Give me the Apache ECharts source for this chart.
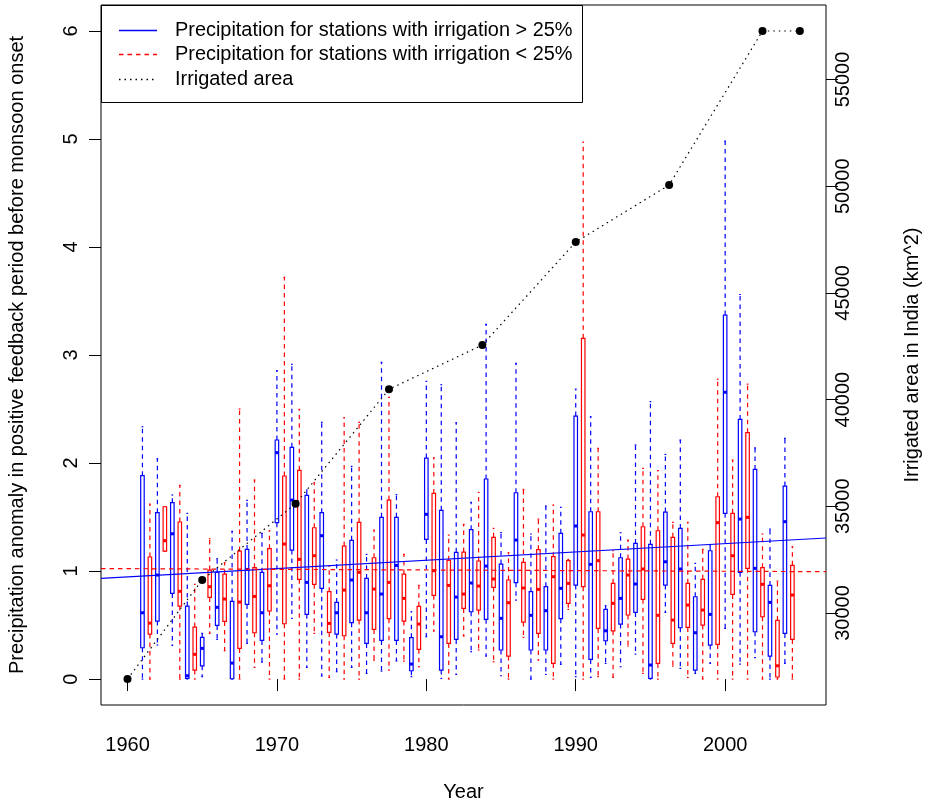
<!DOCTYPE html>
<html><head><meta charset="utf-8">
<script src="https://cdn.jsdelivr.net/npm/echarts@6/dist/echarts.min.js"></script>
<style>html,body{margin:0;padding:0;background:#fff}#c{width:925px;height:804px}</style>
</head><body><div id="c"></div>
<script>
// ---------------- data ----------------
const years = [1961,1962,1963,1964,1965,1966,1967,1968,1969,1970,1971,1972,1973,1974,1975,1976,1977,1978,1979,1980,1981,1982,1983,1984,1985,1986,1987,1988,1989,1990,1991,1992,1993,1994,1995,1996,1997,1998,1999,2000,2001,2002,2003,2004];

// stations with irrigation > 25% (blue)
const blueMin = [0,0.315,0.312,0,0.022,0.367,0,0.33,0.157,0.417,0.562,0.108,0.028,0.068,0.108,0.052,0.074,0.167,0.022,0.392,0.006,0.043,0.253,0.213,0.031,0.731,0,0.043,0.136,0.022,0.015,0.145,0.114,0.231,0,0.617,0.099,0.052,0.145,0.469,0.139,0.198,0,0.145];
const blueQ1  = [0.29,0.537,0.793,0.006,0.123,0.497,0.003,0.691,0.358,1.448,1.194,0.599,0.84,0.417,0.522,0.33,0.358,0.358,0.077,1.293,0.083,0.367,0.623,0.553,0.269,0.892,0.269,0.269,0.559,0.87,0.182,0.355,0.509,0.617,0.006,0.87,0.475,0.083,0.315,1.534,0.988,0.438,0.213,0.423];
const blueMed = [0.614,0.963,1.345,0.031,0.284,0.664,0.148,1.015,0.614,2.096,1.657,0.895,1.327,0.614,0.917,0.614,0.787,1.052,0.139,1.525,0.392,0.759,0.889,1.046,0.562,1.287,0.59,0.633,0.84,1.417,1.062,0.447,0.747,0.88,0.13,1.086,1.019,0.429,0.599,2.655,1.481,1.025,0.71,1.457];
const blueQ3  = [1.883,1.54,1.633,0.676,0.386,0.988,0.719,1.2,0.988,2.213,2.145,1.701,1.54,0.71,1.284,0.932,1.497,1.497,0.383,2.046,1.562,1.173,1.383,1.852,1.065,1.725,0.809,0.855,1.349,2.435,1.549,0.645,1.123,1.256,1.247,1.546,1.395,0.762,1.188,3.37,2.404,1.941,0.867,1.787];
const blueMax = [2.336,2.04,1.704,1.534,0.423,1.114,1.367,1.655,1.349,2.855,2.914,1.75,2.377,1.102,1.969,1.154,2.932,1.707,0.623,2.756,2.725,2.373,1.636,3.284,1.355,2.923,1.343,1.602,1.59,2.684,2.429,0.679,1.355,2.167,2.568,2.08,2.213,1.071,1.234,4.98,3.56,2.14,1.389,2.229];

// stations with irrigation < 25% (red)
const redMin = [0,1.185,0,0,0.423,0.262,0,0.108,0,0,0,0.423,0.015,0,0,0.176,0.083,0.167,0.114,0.444,0,0.398,0.269,0.16,0,0.386,0.176,0,0.645,0,0.022,0.015,0.306,0.052,0,0.12,0.015,0,0,0,0,0,0,0];
const redQ1  = [0.417,1.185,0.676,0.083,0.756,0.534,0.284,0.429,0.63,0.512,0.923,0.877,0.432,0.401,0.546,0.46,0.559,0.537,0.275,0.775,0.33,0.654,0.639,0.849,0.213,0.528,0.423,0.145,0.701,0.855,0.469,0.447,0.593,0.738,0.145,0.33,0.478,0.5,0.321,0.784,1.025,0.577,0.019,0.367];
const redMed = [0.518,1.281,0.812,0.229,0.855,0.741,0.713,0.765,0.864,1.25,1.108,1.142,0.515,0.824,0.988,0.833,0.895,0.747,0.509,1.003,0.867,0.787,0.861,0.926,0.707,0.843,0.83,0.948,0.886,1.333,1.096,0.701,0.963,1.019,0.59,0.546,0.685,0.639,1.448,1.142,1.497,0.877,0.123,0.778];
const redQ3  = [1.13,1.595,1.454,0.481,1.009,0.972,1.185,1.031,1.207,1.88,1.932,1.401,0.809,1.231,1.451,1.123,1.657,0.972,0.673,1.719,1.099,1.176,1.093,1.312,0.917,1.08,1.198,1.133,1.096,3.154,1.549,0.886,1.111,1.41,1.373,1.312,0.886,0.923,1.688,1.534,2.281,1.031,0.543,1.053];
const redMax = [1.62,1.595,1.793,0.877,1.299,1.077,2.5,1.843,1.373,3.719,2.497,1.818,1.046,2.42,2.377,1.38,2.608,1.154,0.867,2.049,1.333,1.432,1.728,1.395,1.17,1.756,1.481,1.611,1.108,4.97,2.136,1.188,1.287,1.951,1.929,1.451,1.451,1.201,2.775,2.028,2.73,1.343,0.907,1.225];

// irrigated area in India (km^2), right axis
const irrigYears = [1960,1965,1971.25,1977.5,1983.75,1990,1996.25,2002.5,2005];
const irrigArea  = [26907,31547,35122,40483,42559,47385,50056,57273,57273];

// regression lines (value at left and right edge of the plot)
const blueTrend = [0.932, 1.306];
const redTrend  = [1.023, 0.994];

// tick labels
const xTicks = [1960,1970,1980,1990,2000];
const leftTicks = [0,1,2,3,4,5,6];
const rightTicks = [30000,35000,40000,45000,50000,55000];

// ---------------- layout / style ----------------
const X_MIN = 1958.226, X_MAX = 2006.75;
const YL_MIN = -0.24, YL_MAX = 6.24;
const YR_MIN = 25689, YR_MAX = 58491;
const FONT = "'Liberation Sans', Arial, Helvetica, sans-serif";
const FS = 20;
const BLUE = '#0000FF', RED = '#FF0000';
const BOX_W = 0.234;

function boxSeries(color, offset, mins, q1s, meds, q3s, maxs) {
  const data = years.map((y, i) => [y + offset, mins[i], q1s[i], meds[i], q3s[i], maxs[i]]);
  return {
    type: 'custom', xAxisIndex: 0, yAxisIndex: 0, silent: true, z: 2,
    encode: { x: 0, y: [1, 2, 3, 4, 5] },
    data: data,
    renderItem: function (params, api) {
      const x = api.value(0);
      const pLo = api.coord([x, api.value(1)]);
      const pQ1 = api.coord([x, api.value(2)]);
      const pMd = api.coord([x, api.value(3)]);
      const pQ3 = api.coord([x, api.value(4)]);
      const pHi = api.coord([x, api.value(5)]);
      const w = api.size([BOX_W, 0])[0];
      const cx = pMd[0];
      const dash = { stroke: color, lineWidth: 1.2, lineDash: [4.5, 4], fill: null };
      const solid = { stroke: color, lineWidth: 1.2, fill: null };
      const ch = [];
      if (pLo[1] - pQ1[1] > 0.5) ch.push({ type: 'line', shape: { x1: cx, y1: pQ1[1], x2: cx, y2: pLo[1] }, style: dash });
      if (pQ3[1] - pHi[1] > 0.5) ch.push({ type: 'line', shape: { x1: cx, y1: pQ3[1], x2: cx, y2: pHi[1] }, style: dash });
      ch.push({ type: 'line', shape: { x1: cx - w / 4, y1: pLo[1], x2: cx + w / 4, y2: pLo[1] }, style: solid });
      ch.push({ type: 'line', shape: { x1: cx - w / 4, y1: pHi[1], x2: cx + w / 4, y2: pHi[1] }, style: solid });
      ch.push({ type: 'rect', shape: { x: cx - w / 2, y: pQ3[1], width: w, height: pQ1[1] - pQ3[1] },
                style: { fill: '#fff', stroke: color, lineWidth: 1.2 } });
      ch.push({ type: 'line', shape: { x1: cx - w / 2, y1: pMd[1], x2: cx + w / 2, y2: pMd[1] },
                style: { stroke: color, lineWidth: 3 } });
      return { type: 'group', children: ch };
    }
  };
}

const chart = echarts.init(document.getElementById('c'), null, { renderer: 'canvas' });
const axisText = { color: '#000', fontSize: FS, fontFamily: FONT };

const option = {
  animation: false,
  backgroundColor: '#fff',
  textStyle: { fontFamily: FONT },
  grid: { left: 101, top: 5, right: 99, bottom: 99, outerBoundsMode: 'none', containLabel: false,
          show: true, borderColor: '#000', borderWidth: 1, backgroundColor: 'transparent' },
  xAxis: {
    type: 'value', min: X_MIN, max: X_MAX,
    name: 'Year', nameLocation: 'middle', nameGap: 77, nameTextStyle: axisText,
    axisLine: { show: false },
    axisTick: { show: true, length: 12, customValues: xTicks, lineStyle: { color: '#000', width: 1 } },
    axisLabel: { customValues: xTicks, margin: 30, ...axisText, formatter: v => String(v) },
    splitLine: { show: false }
  },
  yAxis: [{
    type: 'value', position: 'left', min: YL_MIN, max: YL_MAX,
    name: 'Precipitation anomaly in positive feedback period before monsoon onset',
    nameLocation: 'middle', nameGap: 74, nameRotate: 90, nameTextStyle: axisText,
    axisLine: { show: false },
    axisTick: { show: true, length: 12, customValues: leftTicks, lineStyle: { color: '#000', width: 1 } },
    axisLabel: { customValues: leftTicks, rotate: 90, margin: 20, ...axisText, formatter: v => String(v) },
    splitLine: { show: false }
  }, {
    type: 'value', position: 'right', min: YR_MIN, max: YR_MAX,
    name: 'Irrigated area in India (km^2)',
    nameLocation: 'middle', nameGap: 76, nameRotate: 90, nameTextStyle: axisText,
    axisLine: { show: false },
    axisTick: { show: true, length: 12, customValues: rightTicks, lineStyle: { color: '#000', width: 1 } },
    axisLabel: { customValues: rightTicks, rotate: 90, margin: 7, ...axisText, formatter: v => String(v) },
    splitLine: { show: false }
  }],
  series: [
    boxSeries(BLUE, 0, blueMin, blueQ1, blueMed, blueQ3, blueMax),
    boxSeries(RED, 0.5, redMin, redQ1, redMed, redQ3, redMax),
    {
      name: 'Precipitation for stations with irrigation > 25%', type: 'line', xAxisIndex: 0, yAxisIndex: 0,
      data: [[X_MIN, blueTrend[0]], [X_MAX, blueTrend[1]]], symbol: 'none', silent: true, z: 4,
      lineStyle: { color: BLUE, width: 1.2 }
    },
    {
      name: 'Precipitation for stations with irrigation < 25%', type: 'line', xAxisIndex: 0, yAxisIndex: 0,
      data: [[X_MIN, redTrend[0]], [X_MAX, redTrend[1]]], symbol: 'none', silent: true, z: 4,
      lineStyle: { color: RED, width: 1.2, type: [4.5, 4] }
    },
    {
      name: 'Irrigated area', type: 'line', xAxisIndex: 0, yAxisIndex: 1,
      data: irrigYears.map((y, i) => [y, irrigArea[i]]),
      symbol: 'circle', symbolSize: 8, silent: true, z: 5,
      itemStyle: { color: '#000' },
      lineStyle: { color: '#000', width: 1.2, type: [1.5, 4] }
    }
  ],
  graphic: [
    { type: 'rect', z: 100, shape: { x: 101.5, y: 5.5, width: 481, height: 97 }, style: { fill: '#fff', stroke: '#000', lineWidth: 1 } },
    { type: 'line', z: 101, shape: { x1: 119, y1: 30.5, x2: 157, y2: 30.5 }, style: { stroke: BLUE, lineWidth: 1.3 } },
    { type: 'line', z: 101, shape: { x1: 119, y1: 54.5, x2: 157, y2: 54.5 }, style: { stroke: RED, lineWidth: 1.3, lineDash: [4.5, 4] } },
    { type: 'line', z: 101, shape: { x1: 119, y1: 79.5, x2: 157, y2: 79.5 }, style: { stroke: '#000', lineWidth: 1.3, lineDash: [1.5, 4] } },
    { type: 'text', z: 101, x: 175, y: 31, style: { text: 'Precipitation for stations with irrigation > 25%', fill: '#000', font: '19.9px ' + FONT, verticalAlign: 'middle' } },
    { type: 'text', z: 101, x: 175, y: 55, style: { text: 'Precipitation for stations with irrigation < 25%', fill: '#000', font: '19.9px ' + FONT, verticalAlign: 'middle' } },
    { type: 'text', z: 101, x: 175, y: 79.5, style: { text: 'Irrigated area', fill: '#000', font: '19.9px ' + FONT, verticalAlign: 'middle' } }
  ]
};
chart.setOption(option);
</script></body></html>
